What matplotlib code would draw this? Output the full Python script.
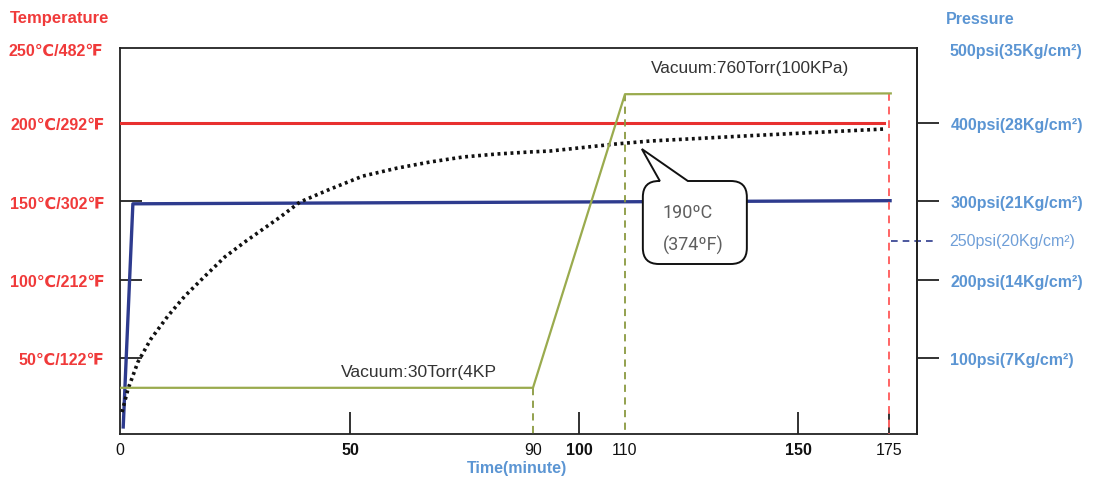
import numpy as np
import matplotlib
matplotlib.use("Agg")
import matplotlib.pyplot as plt
from matplotlib.path import Path
from matplotlib.patches import PathPatch
import matplotlib.transforms as mtransforms

plt.rcParams['font.family'] = ['Liberation Sans', 'DejaVu Sans']

# ---------------- data ----------------
time_ticks = [0, 50, 90, 100, 110, 150, 175]
time_tick_labels = ['0', '50', '90', '100', '110', '150', '175']
bold_time_ticks = ['50', '100', '150']

temp_ticks = [50, 100, 150, 200]
temp_labels = ['50℃/122℉', '100℃/212℉', '150℃/302℉', '200℃/292℉']
temp_top_label = '250℃/482℉'

psi_ticks = [100, 200, 300, 400]
psi_labels = ['100psi(7Kg/cm²)', '200psi(14Kg/cm²)', '300psi(21Kg/cm²)', '400psi(28Kg/cm²)']
psi_top_label = '500psi(35Kg/cm²)'
psi_mark = 250
psi_mark_label = '250psi(20Kg/cm²)'

# set temperature (red)
set_temp_t = [0, 173.5]
set_temp_v = [200, 200]

# pressure bar (blue), in temperature-axis units
press_t = [0.7, 2.8, 175.3]
press_v = [6, 148.5, 150.5]

# vacuum (green), in psi units
vac_t = [0, 90, 110, 175.5]
vac_v = [62, 62, 437, 438]

# actual temperature (black dotted)
act_t = [0.43, 1.74, 3.9, 6.7, 10.4, 14.1, 18.5, 22.8, 27.4, 34.8, 39.1, 45.7,
         52.8, 60.3, 67.5, 74.7, 82.1, 89.3, 93.7, 108.0, 115.8, 138.9, 174.0]
act_v = [15.5, 30.2, 47.5, 62.1, 76.8, 89.6, 102.4, 114.6, 124.7, 140.0, 149.6, 157.9,
         166.2, 171.3, 175.2, 178.4, 180.3, 181.6, 182.2, 186.7, 188.6, 192.0, 196.3]

callout_text = ['190ºC', '(374ºF)']
callout_tip = (113.9, 183.5)

# -------- piecewise time scale (chart axis is not linear) --------
scale_min = [0, 50, 90, 100, 110, 150, 175, 200]
scale_pos = [0, 230, 413, 459, 505, 678, 769, 860]

def fwd(x):
    return np.interp(x, scale_min, scale_pos)

def inv(p):
    return np.interp(p, scale_pos, scale_min)

RED = '#f03a3a'
BLUE_TXT = '#5b95d3'
NAVY = '#2e3b8e'
OLIVE = '#9aab4e'
OLIVE_D = '#8a9a40'

fig = plt.figure(figsize=(10.94, 4.81), dpi=100)
ax = fig.add_axes([120 / 1094, (481 - 435) / 481, 797 / 1094, 386 / 481])
ax.set_xscale('function', functions=(fwd, inv))
ax.set_xlim(0, 182.7)
ax.set_ylim(1.5, 248)

ax2 = ax.twinx()
ax2.set_ylim(3, 496)

for s in ['top', 'right', 'left', 'bottom']:
    ax.spines[s].set_color('#222222')
    ax.spines[s].set_linewidth(1.3)
for s in ax2.spines.values():
    s.set_visible(False)
ax2.spines['right'].set_visible(True)
ax2.spines['right'].set_color('#222222')
ax2.spines['right'].set_linewidth(1.3)

# x axis ticks
ax.set_xticks(time_ticks)
ax.set_xticklabels(time_tick_labels)
ax.tick_params(axis='x', direction='in', length=16, width=1.3, color='#222222',
               pad=6, labelsize=11.5, labelcolor='#111111')
for tick, lab in zip(ax.xaxis.get_major_ticks(), time_tick_labels):
    if lab in bold_time_ticks:
        tick.label1.set_fontweight('bold')
    if lab in ('0', '90', '110'):
        tick.tick1line.set_visible(False)
ax.xaxis.set_minor_locator(matplotlib.ticker.NullLocator())

# left axis
ax.set_yticks(temp_ticks)
ax.set_yticklabels(temp_labels)
ax.tick_params(axis='y', direction='in', length=16, width=1.3, color='#222222',
               pad=11, labelsize=11.5, labelcolor=RED)
for t in ax.get_yticklabels():
    t.set_fontweight('bold')
ax.text(-17 / 797, 246.5, temp_top_label,
        transform=mtransforms.blended_transform_factory(ax.transAxes, ax.transData),
        ha='right', va='center', color=RED, fontsize=11.5, fontweight='bold')
fig.text(10 / 1094, 1 - 19 / 481, 'Temperature', ha='left', va='center',
         color=RED, fontsize=12, fontweight='bold')

# right axis
ax2.set_yticks(psi_ticks)
ax2.set_yticklabels(psi_labels)
ax2.tick_params(axis='y', direction='out', length=16, width=1.3, color='#222222',
                pad=8, labelsize=11.5, labelcolor=BLUE_TXT)
for t in ax2.get_yticklabels():
    t.set_fontweight('bold')
bt2 = mtransforms.blended_transform_factory(ax2.transAxes, ax2.transData)
ax2.text(1 + 32 / 797, 493, psi_top_label, transform=bt2, ha='left', va='center',
         color=BLUE_TXT, fontsize=11.5, fontweight='bold')
ax2.text(1 + 32 / 797, psi_mark, psi_mark_label, transform=bt2, ha='left', va='center',
         color='#6f9fd8', fontsize=11.5)
ax2.plot([0.967, 1.02], [psi_mark, psi_mark], transform=bt2, color=NAVY, lw=1.2,
         ls=(0, (4, 3)), clip_on=False)
fig.text(946 / 1094, 1 - 19 / 481, 'Pressure', ha='left', va='center',
         color=BLUE_TXT, fontsize=11.5, fontweight='bold')
fig.text(517 / 1094, 1 - 469 / 481, 'Time(minute)', ha='center', va='center',
         color=BLUE_TXT, fontsize=11.5, fontweight='bold')

# lines
ax.plot(set_temp_t, set_temp_v, color='#e8302f', lw=2.2, zorder=4)
ax.plot(press_t, press_v, color=NAVY, lw=2.4, zorder=4)
ax2.plot(vac_t, vac_v, color=OLIVE, lw=1.6, zorder=3)
ax2.plot([vac_t[1], vac_t[1]], [vac_v[1], 3], color=OLIVE_D, lw=1.3, ls=(0, (4, 3)))
ax2.plot([vac_t[2], vac_t[2]], [vac_v[2], 3], color=OLIVE_D, lw=1.3, ls=(0, (4, 3)))
ax2.plot([175, 175], [vac_v[3], 3], color='#ff6464', lw=1.4, ls=(0, (4, 3)))
ax.plot(act_t, act_v, color='#111111', lw=2.6, ls=(0, (0.8, 1.0)), zorder=5)

# vacuum labels
ax.text(65, 41.7, 'Vacuum:30Torr(4KP', ha='center', va='center', fontsize=12.6, color='#333333')
ax.text(139, 235.8, 'Vacuum:760Torr(100KPa)', ha='center', va='center', fontsize=12.4, color='#333333')

# speech-bubble callout
x0, x1, yT, yB, r = 0.01, 1.05, -0.32, -1.15, 0.16
bl, br = 0.18, 0.46
verts = [(x0 + r, yT), (bl, yT), (0, 0), (br, yT), (x1 - r, yT), (x1, yT), (x1, yT - r),
         (x1, yB + r), (x1, yB), (x1 - r, yB), (x0 + r, yB), (x0, yB), (x0, yB + r),
         (x0, yT - r), (x0, yT), (x0 + r, yT), (x0 + r, yT)]
codes = [Path.MOVETO, Path.LINETO, Path.LINETO, Path.LINETO, Path.LINETO, Path.CURVE3, Path.CURVE3,
         Path.LINETO, Path.CURVE3, Path.CURVE3, Path.LINETO, Path.CURVE3, Path.CURVE3,
         Path.LINETO, Path.CURVE3, Path.CURVE3, Path.CLOSEPOLY]
tr = fig.dpi_scale_trans + mtransforms.ScaledTranslation(callout_tip[0], callout_tip[1], ax.transData)
bubble = PathPatch(Path(verts, codes), transform=tr, facecolor='white', edgecolor='#111111',
                   lw=1.4, zorder=8, clip_on=False)
ax.add_patch(bubble)
for i, line in enumerate(callout_text):
    off = mtransforms.ScaledTranslation(0.21, -0.63 - 0.32 * i, fig.dpi_scale_trans)
    ax.text(callout_tip[0], callout_tip[1], line, transform=ax.transData + off,
            ha='left', va='center', fontsize=13, color='#5e5e5e',
            family=['Roboto', 'DejaVu Sans'], zorder=9)

fig.savefig('out.png', dpi=100)
